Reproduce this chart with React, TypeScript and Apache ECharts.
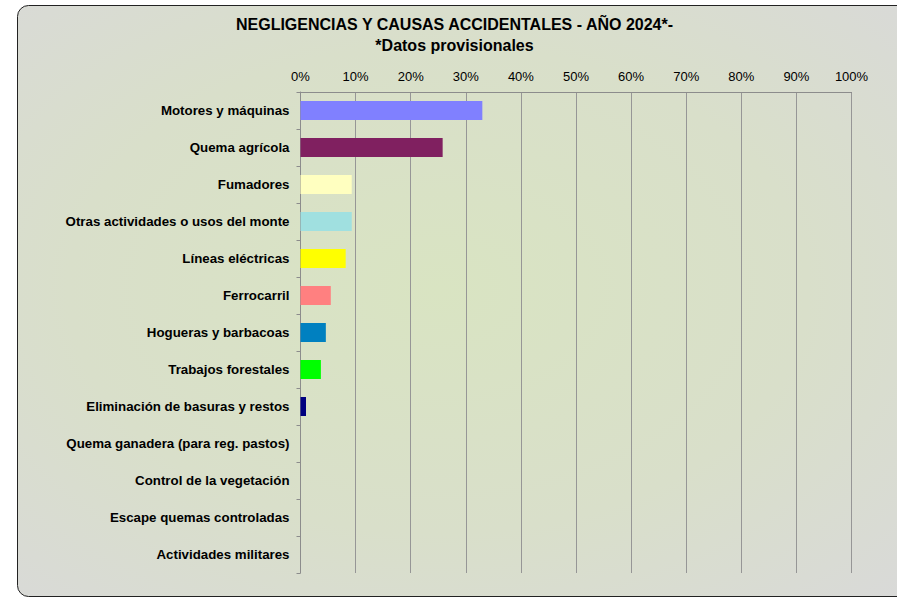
import React, { useEffect, useRef } from "react";
import * as echarts from "echarts";

const titleLines = ["NEGLIGENCIAS Y CAUSAS ACCIDENTALES - AÑO 2024*-", "*Datos provisionales"];

const categories = [
  "Motores y máquinas",
  "Quema agrícola",
  "Fumadores",
  "Otras actividades o usos del monte",
  "Líneas eléctricas",
  "Ferrocarril",
  "Hogueras y barbacoas",
  "Trabajos forestales",
  "Eliminación de basuras y restos",
  "Quema ganadera (para reg. pastos)",
  "Control de la vegetación",
  "Escape quemas controladas",
  "Actividades militares",
];

const values = [33.0, 25.8, 9.3, 9.3, 8.2, 5.5, 4.6, 3.7, 1.0, 0, 0, 0, 0];

const barColors = [
  "#8080FF",
  "#802060",
  "#FFFFC0",
  "#A0E0E0",
  "#FFFF00",
  "#FF8080",
  "#0080C0",
  "#00FF00",
  "#000080",
  "#FF00FF",
  "#00FFFF",
  "#800000",
  "#008080",
];

const FONT = "'Liberation Sans', Arial, sans-serif";

export default function App() {
  const ref = useRef<HTMLDivElement>(null);

  useEffect(() => {
    if (!ref.current) return;
    const chart = echarts.init(ref.current, undefined, { renderer: "svg" });
    chart.setOption({
      animation: false,
      textStyle: { fontFamily: FONT },
      graphic: [
        {
          type: "rect",
          z: -100,
          silent: true,
          shape: { x: 17.5, y: 5.5, width: 895, height: 591, r: 11 },
          style: {
            fill: {
              type: "radial",
              x: 0.47,
              y: 0.48,
              r: 0.75,
              colorStops: [
                { offset: 0, color: "#d9e4c2" },
                { offset: 0.55, color: "#d9dfca" },
                { offset: 1, color: "#d9d9d9" },
              ],
            },
            stroke: "#222",
            lineWidth: 1,
          },
        },
        {
          type: "text",
          x: 454.5,
          y: 24,
          style: {
            text: titleLines[0],
            fontFamily: FONT,
            fontSize: 16,
            fontWeight: "bold",
            fill: "#000",
            align: "center",
            verticalAlign: "middle",
          },
        },
        {
          type: "text",
          x: 454.5,
          y: 45,
          style: {
            text: titleLines[1],
            fontFamily: FONT,
            fontSize: 16,
            fontWeight: "bold",
            fill: "#000",
            align: "center",
            verticalAlign: "middle",
          },
        },
      ],
      grid: { left: 300.5, right: 45.5, top: 92, bottom: 25, containLabel: false },
      xAxis: {
        type: "value",
        position: "top",
        min: 0,
        max: 100,
        interval: 10,
        axisLine: { show: true, lineStyle: { color: "#8c8c8c", width: 1 } },
        axisTick: { show: false },
        axisLabel: {
          formatter: "{value}%",
          fontSize: 13,
          color: "#000",
          fontFamily: FONT,
          margin: 9,
        },
        splitLine: { show: true, lineStyle: { color: "#969696", width: 1 } },
      },
      yAxis: {
        type: "category",
        inverse: true,
        data: categories,
        axisLine: { show: true, lineStyle: { color: "#8c8c8c", width: 1 } },
        axisTick: { show: true, length: 4, lineStyle: { color: "#8c8c8c" } },
        axisLabel: {
          fontSize: 13.3,
          fontWeight: "bold",
          color: "#000",
          fontFamily: FONT,
          margin: 11,
        },
        splitLine: { show: false },
      },
      series: [
        {
          type: "bar",
          barWidth: 19,
          data: values.map((v, i) => ({ value: v, itemStyle: { color: barColors[i] } })),
        },
      ],
    });
    return () => chart.dispose();
  }, []);

  return (
    <div
      ref={ref}
      style={{ position: "fixed", left: 0, top: 0, width: 897, height: 598, background: "#fff" }}
    />
  );
}
